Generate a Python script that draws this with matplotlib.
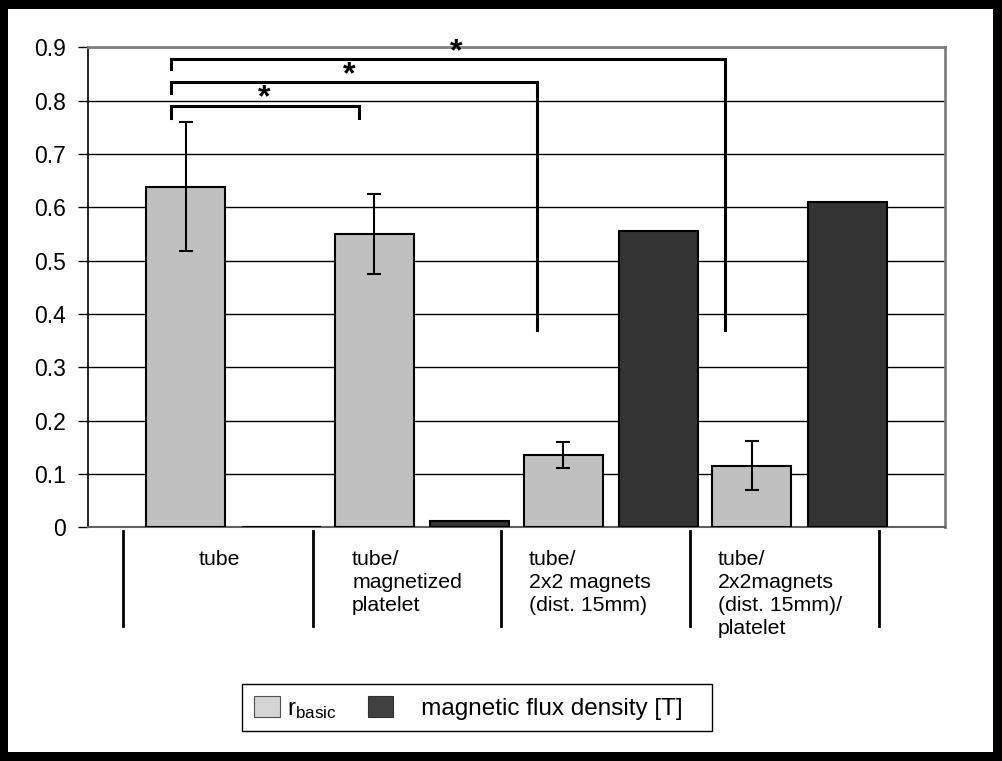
import matplotlib
matplotlib.use("Agg")
import matplotlib.pyplot as plt
from matplotlib.patches import Rectangle, Patch
import numpy as np

plt.rcParams['font.family'] = ['Liberation Sans', 'DejaVu Sans']

categories = ["tube", "tube/\nmagnetized\nplatelet", "tube/\n2x2 magnets\n(dist. 15mm)",
              "tube/\n2x2magnets\n(dist. 15mm)/\nplatelet"]
r_basic = [0.638, 0.550, 0.135, 0.115]
r_err_hi = [0.122, 0.075, 0.025, 0.047]
r_err_lo = [0.120, 0.076, 0.023, 0.045]
flux = [0.0, 0.012, 0.555, 0.609]
yticks = [0, 0.1, 0.2, 0.3, 0.4, 0.5, 0.6, 0.7, 0.8, 0.9]
ytick_labels = ["0", "0.1", "0.2", "0.3", "0.4", "0.5", "0.6", "0.7", "0.8", "0.9"]
# significance brackets: (x_left, x_right, y_top, y_left_end, y_right_end, star_x, star_y)
brackets = [
    (-0.33, 0.666, 0.7895, 0.768, 0.768, 0.163, 0.805),
    (-0.33, 1.608, 0.8355, 0.814, 0.370, 0.613, 0.847),
    (-0.33, 2.603, 0.878, 0.859, 0.370, 1.179, 0.890),
]

W, H = 1003, 761
fig = plt.figure(figsize=(W / 100, H / 100), dpi=100, facecolor='black')
bg = Rectangle((8 / W, 1 - 751.5 / H), (993 - 8) / W, (751.5 - 9) / H,
               transform=fig.transFigure, facecolor='white', edgecolor='none', zorder=-10)
fig.patches.append(bg)

ax = fig.add_axes([88 / W, 1 - 527.3 / H, (945 - 88) / W, 480 / H])
ax.set_facecolor('white')

x = np.arange(len(categories))
bw = 0.418
off = 0.253
ax.bar(x - off, r_basic, bw, color='#c0c0c0', edgecolor='black', linewidth=1.5, zorder=3)
ax.bar(x + off, flux, bw, color='#333333', edgecolor='black', linewidth=1.5, zorder=3)
ax.errorbar(x - off, r_basic, yerr=[r_err_lo, r_err_hi], fmt='none', ecolor='black',
            elinewidth=1.5, capsize=5, capthick=1.5, zorder=4)

ax.set_xlim(-0.77, 3.77)
ax.set_ylim(0, 0.9)
ax.set_yticks(yticks)
ax.set_yticklabels(ytick_labels, fontsize=16.5)
ax.set_xticks([])
ax.yaxis.grid(True, color='black', linewidth=1)
ax.set_axisbelow(True)
ax.tick_params(axis='y', direction='out', length=7, width=1, pad=9, colors='black')
ax.spines['left'].set_color('black')
ax.spines['left'].set_linewidth(1.2)
for s in ['top', 'right']:
    ax.spines[s].set_color('#808080')
    ax.spines[s].set_linewidth(2)
ax.spines['bottom'].set_color('#606060')
ax.spines['bottom'].set_linewidth(1.5)

# brackets
for (xl, xr, yt, yl, yr, sx, sy) in brackets:
    ax.plot([xl, xl, xr, xr], [yl, yt, yt, yr], color='black', linewidth=2.2,
            solid_joinstyle='miter', clip_on=False, zorder=5)
    ax.text(sx, sy, "*", ha='center', va='center', fontsize=23, fontweight='bold', zorder=6)

# category separators and labels
tr = ax.get_xaxis_transform()
for sx in [-0.584, 0.42, 1.42, 2.42, 3.42]:
    ax.plot([sx, sx], [-0.008, -0.206], transform=tr, color='black', linewidth=2, clip_on=False)
label_x = [-0.073, 0.629, 1.566, 2.566]
label_ha = ['center', 'left', 'left', 'left']
for lx, ha, lab in zip(label_x, label_ha, categories):
    ax.text(lx, -0.048, lab, transform=tr, ha=ha, va='top', fontsize=15.3, linespacing=1.25)

# legend with manual frame
frame = Rectangle((242 / W, 1 - 731 / H), (712 - 242) / W, (731 - 684) / H,
                  transform=fig.transFigure, facecolor='white', edgecolor='black',
                  linewidth=1, zorder=4)
fig.patches.append(frame)
handles = [Patch(facecolor='#d4d4d4', edgecolor='#505050', linewidth=0.8),
           Patch(facecolor='#404040', edgecolor='#303030', linewidth=0.8)]
leg = fig.legend(handles, [r'$\mathregular{r_{basic}}$', '   magnetic flux density [T]'],
                 loc='center left', bbox_to_anchor=(254 / W, 1 - 708.5 / H), ncol=2,
                 fontsize=17.5, frameon=False,
                 handlelength=1.05, handleheight=0.95, handletextpad=0.3, columnspacing=1.3,
                 borderpad=0, borderaxespad=0)
leg.set_zorder(5)

fig.savefig("out.png", dpi=100, facecolor='black')
